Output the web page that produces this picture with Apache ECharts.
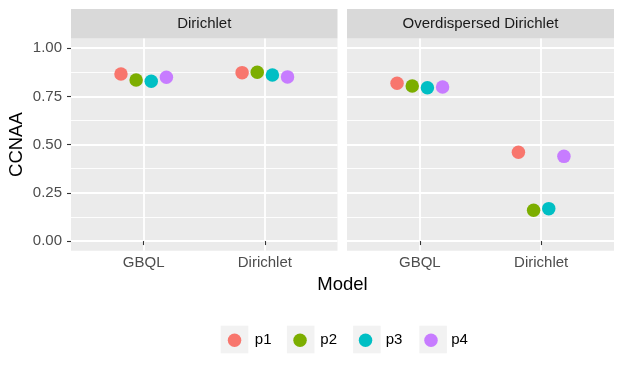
<!DOCTYPE html>
<html>
<head>
<meta charset="utf-8">
<script src="https://cdn.jsdelivr.net/npm/echarts@6/dist/echarts.min.js"></script>
<style>html,body{margin:0;padding:0;background:#fff}#c{width:623px;height:374px}</style>
</head>
<body>
<div id="c"></div>
<script>
const categories = ['GBQL', 'Dirichlet'];
const facets = ['Dirichlet', 'Overdispersed Dirichlet'];
const groups = ['p1', 'p2', 'p3', 'p4'];
const colors = ['#F8766D', '#7CAE00', '#00BFC4', '#C77CFF'];
// facet "Dirichlet"
const dirP1 = [0.866, 0.873];
const dirP2 = [0.835, 0.875];
const dirP3 = [0.828, 0.861];
const dirP4 = [0.849, 0.851];
// facet "Overdispersed Dirichlet"
const odP1 = [0.818, 0.460];
const odP2 = [0.804, 0.160];
const odP3 = [0.795, 0.168];
const odP4 = [0.799, 0.439];
const yTicks = [0, 0.25, 0.5, 0.75, 1];
const yTickLabels = ['0.00', '0.25', '0.50', '0.75', '1.00'];
const yMinor = [0.125, 0.375, 0.625, 0.875];
const xTicks = [1, 2];

const facetData = [[dirP1, dirP2, dirP3, dirP4], [odP1, odP2, odP3, odP4]];
const FONT = '"Liberation Sans", Arial, sans-serif';
const dodgeWidth = 0.5;

const panels = [
  { left: 71, width: 266.5 },
  { left: 347, width: 267 }
];
const panelTop = 38.5, panelHeight = 212.2, stripTop = 9;

const grids = [], xAxes = [], yAxes = [], series = [], graphics = [];
panels.forEach((p, f) => {
  grids.push({ left: p.left, top: panelTop, width: p.width, height: panelHeight, show: true,
    backgroundColor: '#EBEBEB', borderWidth: 0, containLabel: false });
  xAxes.push({
    type: 'value', gridIndex: f, min: 0.4, max: 2.6, position: 'bottom',
    axisLine: { show: false },
    axisTick: { show: true, customValues: xTicks, length: 4, lineStyle: { color: '#333333', width: 1.1 } },
    axisLabel: { customValues: xTicks, formatter: v => categories[Math.round(v) - 1], margin: 5,
      color: '#4D4D4D', fontSize: 15, fontFamily: FONT },
    splitLine: { show: true, lineStyle: { color: '#FFFFFF', width: 1.8 } }
  });
  // minor y grid
  yAxes.push({
    type: 'value', gridIndex: f, min: -0.05, max: 1.05, position: 'left',
    axisLine: { show: false },
    axisTick: { show: false, customValues: yMinor },
    axisLabel: { show: false, customValues: yMinor },
    splitLine: { show: true, lineStyle: { color: '#FFFFFF', width: 0.9 } }
  });
  // major y
  yAxes.push({
    type: 'value', gridIndex: f, min: -0.05, max: 1.05, position: 'left',
    name: f === 0 ? 'CCNAA' : '', nameLocation: 'middle', nameGap: 45,
    nameTextStyle: { fontSize: 18.5, color: '#000000', fontFamily: FONT },
    axisLine: { show: false },
    axisTick: { show: f === 0, customValues: yTicks, length: 4, lineStyle: { color: '#333333', width: 1.1 } },
    axisLabel: { show: f === 0, customValues: yTicks, margin: 9,
      formatter: v => yTickLabels[yTicks.findIndex(t => Math.abs(t - v) < 1e-6)],
      color: '#4D4D4D', fontSize: 15, fontFamily: FONT },
    splitLine: { show: true, lineStyle: { color: '#FFFFFF', width: 1.8 } }
  });
  groups.forEach((g, i) => {
    const offset = (i - (groups.length - 1) / 2) * dodgeWidth / groups.length;
    series.push({
      type: 'scatter', name: g, xAxisIndex: f, yAxisIndex: f * 2 + 1,
      symbol: 'circle', symbolSize: 13.5,
      itemStyle: { color: colors[i], opacity: 1 },
      data: facetData[f][i].map((v, k) => [k + 1 + offset, v]),
      z: 5
    });
  });
  graphics.push({ type: 'rect', shape: { x: p.left, y: stripTop, width: p.width, height: panelTop - stripTop },
    style: { fill: '#D9D9D9' }, silent: true });
  graphics.push({ type: 'text', x: p.left + p.width / 2, y: (stripTop + panelTop) / 2,
    style: { text: facets[f], fill: '#1A1A1A', font: '15px ' + FONT, align: 'center', verticalAlign: 'middle' } });
});

// x title
graphics.push({ type: 'text', x: (panels[0].left + panels[1].left + panels[1].width) / 2, y: 285,
  style: { text: 'Model', fill: '#000000', font: '18.5px ' + FONT, align: 'center', verticalAlign: 'middle' } });

// legend key backgrounds
const legendKeyX = [220.7, 286.9, 353.1, 419.3];
legendKeyX.forEach(x => graphics.push({ type: 'rect', shape: { x: x, y: 325.7, width: 27.6, height: 27.6 },
  style: { fill: '#F2F2F2' }, silent: true, z: -1 }));

const chart = echarts.init(document.getElementById('c'), null, { renderer: 'canvas' });
chart.setOption({
  animation: false,
  backgroundColor: '#FFFFFF',
  grid: grids, xAxis: xAxes, yAxis: yAxes, series: series,
  legend: {
    data: groups, left: 227.8, top: 332.8, orient: 'horizontal',
    itemWidth: 13.5, itemHeight: 13.5, itemGap: 21.8, padding: 0,
    icon: 'circle',
    textStyle: { fontSize: 15, color: '#000000', fontFamily: FONT, padding: [0, 0, 0, 8.5] }
  },
  graphic: graphics
});
</script>
</body>
</html>
